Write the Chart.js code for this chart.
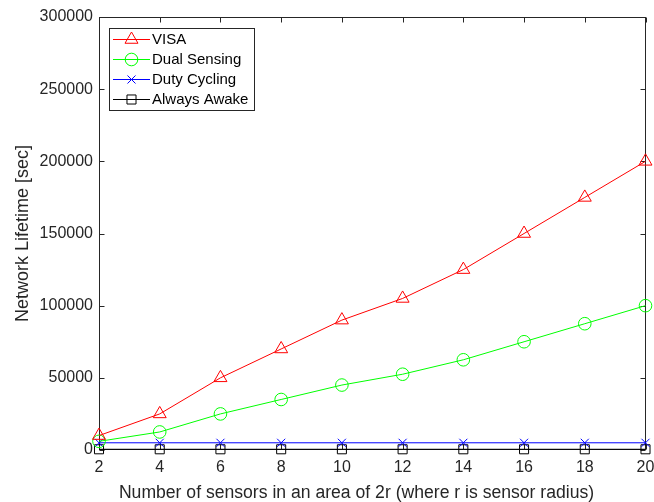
<!DOCTYPE html>
<html>
<head>
<meta charset="utf-8">
<script src="https://cdn.jsdelivr.net/npm/chart.js@4/dist/chart.umd.min.js"></script>
<style>
  body { margin: 0; background: #fff; }
  #wrap { width: 654px; height: 502px; }
</style>
</head>
<body>
<div id="wrap"><canvas id="lifetimeChart" width="654" height="502"></canvas></div>
<script>
// Data
const sensors = [2, 4, 6, 8, 10, 12, 14, 16, 18, 20];
const visa = [10000, 25000, 50000, 70000, 90000, 105000, 125000, 150000, 175000, 200000];
const dualSensing = [6000, 12500, 25000, 35000, 45000, 52500, 62500, 75000, 87500, 100000];
const dutyCycling = [5000, 5000, 5000, 5000, 5000, 5000, 5000, 5000, 5000, 5000];
const alwaysAwake = [500, 500, 500, 500, 500, 500, 500, 500, 500, 500];

const xTicks = [2, 4, 6, 8, 10, 12, 14, 16, 18, 20];
const yTicks = [0, 50000, 100000, 150000, 200000, 250000, 300000];

const xTitle = 'Number of sensors in an area of 2r (where r is sensor radius)';
const yTitle = 'Network Lifetime [sec]';

const axisColor = '#262626';
const fontFamily = "'Liberation Sans', Arial, Helvetica, sans-serif";

function toPoints(values) {
    return sensors.map((s, i) => ({ x: s, y: values[i] }));
}

function makeSet(label, values, color, style, radius) {
    return {
        label: label,
        data: toPoints(values),
        borderColor: color,
        backgroundColor: 'rgba(0,0,0,0)',
        borderWidth: 1,
        pointStyle: style,
        pointRadius: radius,
        pointBorderColor: color,
        pointBackgroundColor: 'rgba(0,0,0,0)',
        pointBorderWidth: 1,
        tension: 0,
        clip: false
    };
}

// MATLAB-like box, inward ticks, axis labels and legend
const boxPlugin = {
    id: 'matlabBox',
    beforeDatasetsDraw(chart) {
        const { ctx, chartArea: a, scales } = chart;
        const L = Math.round(a.left) + 0.5, R = Math.round(a.right) - 0.5;
        const T = Math.round(a.top) + 0.5, B = Math.round(a.bottom) - 0.5;
        ctx.save();
        ctx.strokeStyle = axisColor;
        ctx.lineWidth = 1;
        ctx.strokeRect(L, T, R - L, B - T);
        ctx.beginPath();
        xTicks.forEach(v => {
            const px = Math.round(scales.x.getPixelForValue(v)) + 0.5;
            ctx.moveTo(px, B); ctx.lineTo(px, B - 5);
            ctx.moveTo(px, T); ctx.lineTo(px, T + 5);
        });
        yTicks.forEach(v => {
            const py = Math.round(scales.y.getPixelForValue(v)) + 0.5;
            ctx.moveTo(L, py); ctx.lineTo(L + 5, py);
            ctx.moveTo(R, py); ctx.lineTo(R - 5, py);
        });
        ctx.stroke();

        // axis titles
        ctx.fillStyle = axisColor;
        ctx.textAlign = 'center';
        ctx.textBaseline = 'alphabetic';
        ctx.font = '17.6px ' + fontFamily;
        ctx.fillText(xTitle, 356.5, 498);
        ctx.save();
        ctx.translate(27.5, (a.top + a.bottom) / 2);
        ctx.rotate(-Math.PI / 2);
        ctx.font = '18px ' + fontFamily;
        ctx.fillText(yTitle, 0, 0);
        ctx.restore();
        ctx.restore();
    },
    afterDatasetsDraw(chart) {
        const ctx = chart.ctx;
        ctx.save();
        ctx.fillStyle = '#fff';
        ctx.fillRect(109.5, 28.5, 145, 82);
        ctx.strokeStyle = axisColor;
        ctx.lineWidth = 1;
        ctx.strokeRect(109.5, 28.5, 145, 82);
        chart.data.datasets.forEach((ds, i) => {
            const y = 39.5 + i * 20;
            ctx.strokeStyle = ds.borderColor;
            ctx.lineWidth = 1;
            ctx.beginPath();
            ctx.moveTo(113, y); ctx.lineTo(150, y);
            ctx.stroke();
            ctx.fillStyle = 'rgba(0,0,0,0)';
            Chart.helpers.drawPoint(ctx, {
                pointStyle: ds.pointStyle, radius: ds.pointRadius, rotation: 0, borderWidth: 1
            }, 131.5, y);
            ctx.fillStyle = '#000';
            ctx.font = '15px ' + fontFamily;
            ctx.textBaseline = 'middle';
            ctx.textAlign = 'left';
            ctx.fillText(ds.label, 152, y + 0.5);
        });
        ctx.restore();
    }
};

const ctx = document.getElementById('lifetimeChart').getContext('2d');
new Chart(ctx, {
    type: 'line',
    data: {
        datasets: [
            makeSet('VISA', visa, '#ff0000', 'triangle', 7.5),
            makeSet('Dual Sensing', dualSensing, '#00ff00', 'circle', 6.3),
            makeSet('Duty Cycling', dutyCycling, '#0000ff', 'crossRot', 5.7),
            makeSet('Always Awake', alwaysAwake, '#000000', 'rect', 6.4)
        ]
    },
    options: {
        responsive: false,
        animation: false,
        layout: { padding: { left: 0, right: 7, top: 17, bottom: 0 } },
        plugins: {
            legend: { display: false },
            tooltip: { enabled: false }
        },
        scales: {
            x: {
                type: 'linear',
                min: 2,
                max: 20,
                grid: { display: false, drawTicks: false },
                border: { display: false },
                afterBuildTicks: s => { s.ticks = xTicks.map(v => ({ value: v })); },
                afterFit: s => { s.height = 52; s.paddingLeft = 0; s.paddingRight = 0; },
                ticks: {
                    color: axisColor,
                    padding: 8,
                    maxRotation: 0,
                    font: { family: fontFamily, size: 16 },
                    callback: v => String(v)
                }
            },
            y: {
                min: 0,
                max: 300000,
                grid: { display: false, drawTicks: false },
                border: { display: false },
                afterBuildTicks: s => { s.ticks = yTicks.map(v => ({ value: v })); },
                afterFit: s => { s.width = 99; s.paddingTop = 0; s.paddingBottom = 0; },
                ticks: {
                    color: axisColor,
                    padding: 6,
                    font: { family: fontFamily, size: 16 },
                    callback: v => String(v)
                }
            }
        }
    },
    plugins: [boxPlugin]
});
</script>
</body>
</html>
